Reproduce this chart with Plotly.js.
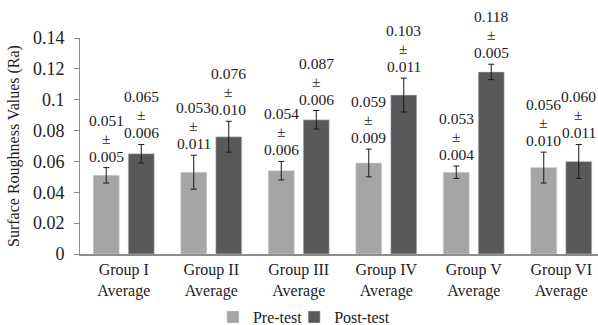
<!DOCTYPE html>
<html>
<head>
<meta charset="utf-8">
<script src="https://cdn.plot.ly/plotly-3.0.1.min.js"></script>
<style>html,body{margin:0;padding:0;background:#fff;}#chart{width:598px;height:325px;}</style>
</head>
<body>
<div id="chart"></div>
<script>
var categories = ["Group I<br>Average", "Group II<br>Average", "Group III<br>Average", "Group IV<br>Average", "Group V<br>Average", "Group VI<br>Average"];
var preMean = [0.051, 0.053, 0.054, 0.059, 0.053, 0.056];
var preSD   = [0.005, 0.011, 0.006, 0.009, 0.004, 0.010];
var postMean = [0.065, 0.076, 0.087, 0.103, 0.118, 0.060];
var postSD   = [0.006, 0.010, 0.006, 0.011, 0.005, 0.011];
var seriesNames = ["Pre-test", "Post-test"];

var FONT = "Liberation Serif, Times New Roman, serif";

function fmt(v) { return v.toFixed(3); }

var traces = [
  {
    type: "bar", name: seriesNames[0], x: categories, y: preMean, legend: "legend",
    marker: {color: "#a5a5a5", line: {color: "#d9d9d9", width: 0.5}},
    error_y: {type: "data", array: preSD, visible: true, color: "#1a1a1a", thickness: 1, width: 3}
  },
  {
    type: "bar", name: seriesNames[1], x: categories, y: postMean, legend: "legend2",
    marker: {color: "#595959", line: {color: "#d9d9d9", width: 0.5}},
    error_y: {type: "data", array: postSD, visible: true, color: "#1a1a1a", thickness: 1, width: 3}
  }
];

var annotations = [];
function addLabel(c, top, mean, sd, dx) {
  var lines = [fmt(sd), "±", fmt(mean)];
  lines.forEach(function (t, k) {
    annotations.push({
      x: c, y: top, xref: "x", yref: "y", xshift: dx, yshift: 2 + k * 18,
      yanchor: "bottom", xanchor: "center", showarrow: false, borderpad: 0,
      text: t, font: {family: FONT, size: 15.5, color: "#222"}
    });
  });
}
categories.forEach(function (c, i) {
  addLabel(c, preMean[i] + preSD[i], preMean[i], preSD[i], -17.5);
  addLabel(c, postMean[i] + postSD[i], postMean[i], postSD[i], 17.5);
});

var legendFont = {family: FONT, size: 16, color: "#222"};
var layout = {
  width: 598, height: 325,
  margin: {l: 80, r: 0, t: 38, b: 71, pad: 0, autoexpand: false},
  paper_bgcolor: "#fff", plot_bgcolor: "#fff",
  font: {family: FONT, color: "#222"},
  barmode: "group", bargap: 0.2, bargroupgap: 0.257,
  showlegend: true,
  legend: {orientation: "h", x: 0.2566, xanchor: "left", y: -0.292, yanchor: "middle",
           itemwidth: 30, font: legendFont, bgcolor: "rgba(0,0,0,0)"},
  legend2: {orientation: "h", x: 0.4134, xanchor: "left", y: -0.292, yanchor: "middle",
           itemwidth: 30, font: legendFont, bgcolor: "rgba(0,0,0,0)"},
  xaxis: {
    range: [-0.5, 5.42], showline: true, linecolor: "#8c8c8c", linewidth: 1.5,
    ticks: "", tickfont: {family: FONT, size: 16, color: "#222"}, showgrid: false, zeroline: false,
    fixedrange: true
  },
  yaxis: {
    range: [0, 0.14], dtick: 0.02, tick0: 0, showline: true, linecolor: "#8c8c8c", linewidth: 1,
    ticks: "outside", ticklen: 5, tickcolor: "#8c8c8c", showgrid: false, zeroline: false,
    ticklabelstandoff: 6,
    tickfont: {family: FONT, size: 18, color: "#222"},
    title: {text: "Surface Roughness Values (Ra)", font: {family: FONT, size: 16, color: "#222"}, standoff: 9}
  },
  annotations: annotations
};

Plotly.newPlot("chart", traces, layout, {displayModeBar: false, staticPlot: true});
</script>
</body>
</html>
